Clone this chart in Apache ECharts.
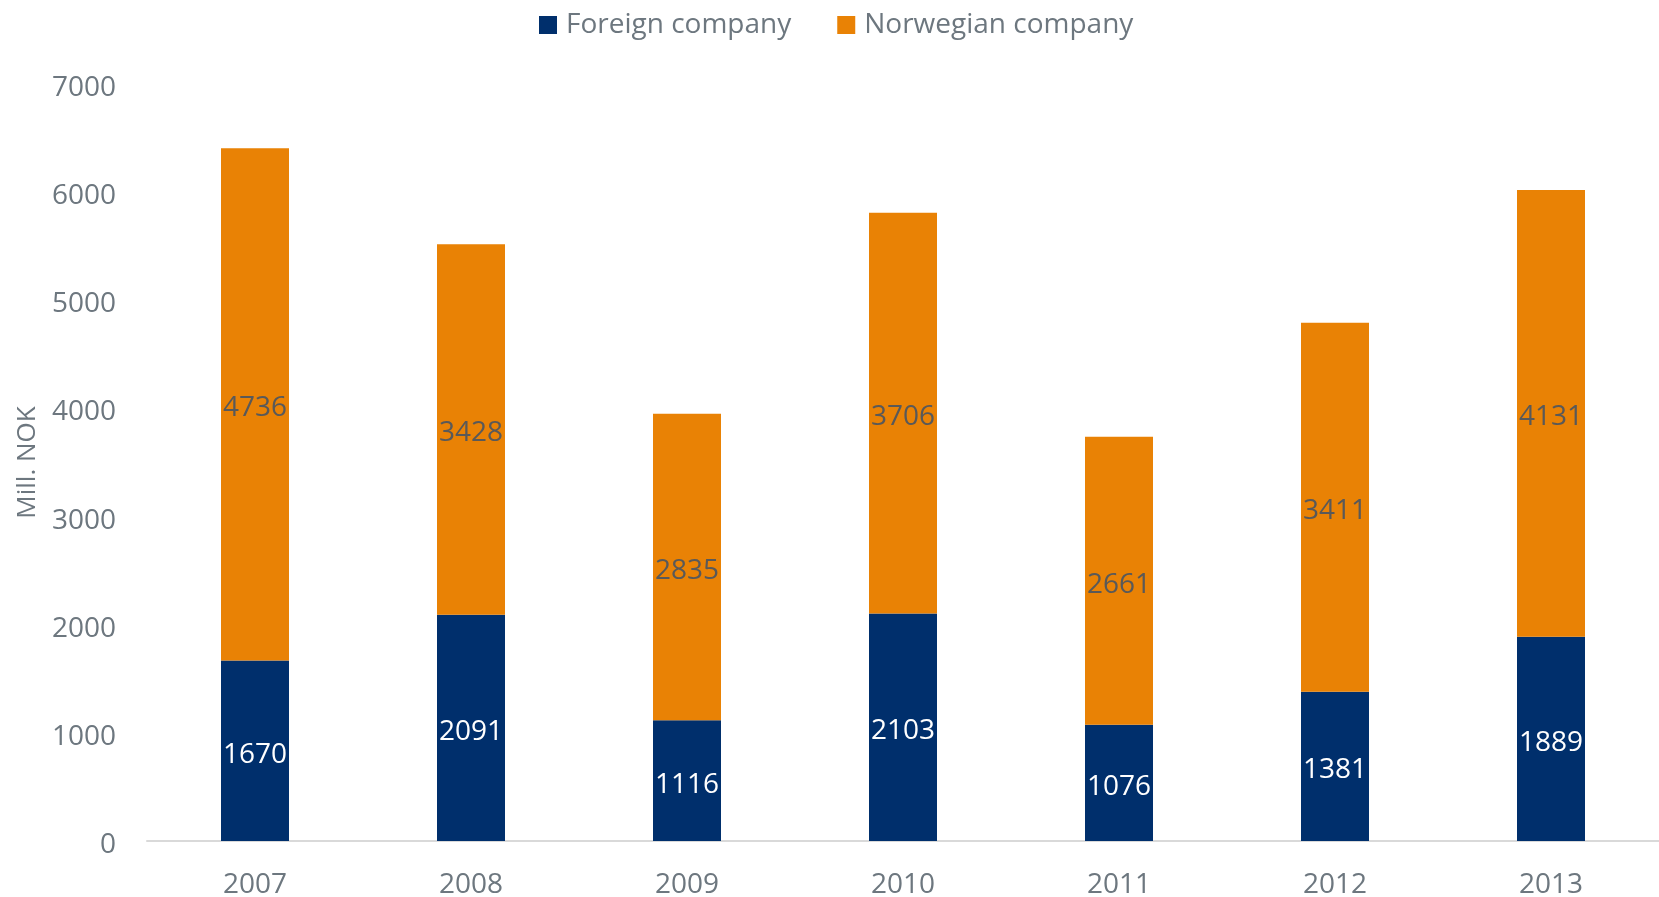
<!DOCTYPE html>
<html>
<head>
<meta charset="utf-8">
<script src="https://cdn.jsdelivr.net/npm/echarts@6/dist/echarts.min.js"></script>
<style>
  html, body { margin: 0; padding: 0; background: #fff; }
  #chart { width: 1659px; height: 897px; }
</style>
</head>
<body>
<div id="chart"></div>
<script>
const years = ['2007', '2008', '2009', '2010', '2011', '2012', '2013'];
const foreign = [1670, 2091, 1116, 2103, 1076, 1381, 1889];
const norwegian = [4736, 3428, 2835, 3706, 2661, 3411, 4131];

const textColor = '#6d777f';
const font = '"Open Sans", sans-serif';

const chart = echarts.init(document.getElementById('chart'));
chart.setOption({
  animation: false,
  color: ['#002f6c', '#e98205'],
  legend: {
    left: 534,
    top: 6,
    itemWidth: 18,
    itemHeight: 18,
    itemGap: 46,
    icon: 'rect',
    textStyle: { color: textColor, fontSize: 28, fontFamily: font, padding: [0, 0, 0, 4] }
  },
  grid: {
    left: 147,
    right: 0,
    top: 84,
    bottom: 56,
    outerBoundsMode: 'none'
  },
  xAxis: {
    type: 'category',
    data: years,
    axisLine: { lineStyle: { color: '#d9d9d9', width: 2 } },
    axisTick: { show: false },
    axisLabel: { color: textColor, fontSize: 28, fontFamily: font, margin: 30 }
  },
  yAxis: {
    type: 'value',
    min: 0,
    max: 7000,
    interval: 1000,
    name: 'Mill. NOK',
    nameLocation: 'middle',
    nameGap: 106,
    nameTextStyle: { color: textColor, fontSize: 26, fontFamily: font },
    splitLine: { show: false },
    axisLine: { show: false },
    axisTick: { show: false },
    axisLabel: {
      color: textColor, fontSize: 28, fontFamily: font, margin: 31,
      formatter: v => '{v|' + v + '}',
      rich: { v: { fontSize: 28, fontFamily: font, color: textColor, padding: [8, 0, 0, 0] } }
    }
  },
  series: [
    {
      name: 'Foreign company',
      type: 'bar',
      stack: 'total',
      barWidth: 68,
      data: foreign,
      label: { show: true, position: 'inside', offset: [0, 4], color: '#ffffff', fontSize: 28, fontFamily: font }
    },
    {
      name: 'Norwegian company',
      type: 'bar',
      stack: 'total',
      barWidth: 68,
      data: norwegian,
      label: { show: true, position: 'inside', offset: [0, 4], color: '#595959', fontSize: 28, fontFamily: font }
    }
  ]
});
</script>
</body>
</html>
